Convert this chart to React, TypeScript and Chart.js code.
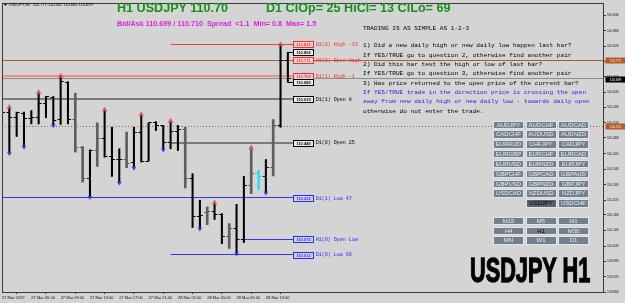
import React, { useEffect, useRef } from "react";
import { Chart, registerables } from "chart.js";

Chart.register(...registerables);

// ---------- data ----------
const headerLine = "USDJPY,H1  110.771 110.802 110.685 110.699";
const symbolTitle = "H1 USDJPY 110.70";
const dailyStats = "D1 ClOp= 25 HiCl= 13 ClLo= 69";
const spreadLine = "Bid/Ask 110.699 / 110.710  Spread  <1.1  Min= 0.8  Max= 1.5";
const bigLabel = "USDJPY H1";

const opens = [
  110.561, 110.568, 110.548, 110.561, 110.542, 110.546, 110.600, 110.626, 110.538, 110.684,
  110.538, 110.431, 110.308, 110.418, 110.464, 110.395, 110.383, 110.385, 110.372, 110.490,
  110.377, 110.526, 110.516, 110.449, 110.492, 110.499, 110.308, 110.162, 110.175, 110.181,
  110.168, 110.081, 110.114, 110.072, 110.282, 110.328, 110.315, 110.351, 110.516, 110.771,
];
const highs = [
  110.574, 110.587, 110.568, 110.568, 110.574, 110.645, 110.629, 110.629, 110.709, 110.687,
  110.642, 110.434, 110.421, 110.526, 110.577, 110.509, 110.425, 110.490, 110.509, 110.558,
  110.526, 110.531, 110.516, 110.533, 110.516, 110.509, 110.328, 110.224, 110.198, 110.214,
  110.172, 110.133, 110.208, 110.317, 110.429, 110.341, 110.383, 110.539, 110.832, 110.802,
];
const lows = [
  110.470, 110.405, 110.473, 110.429, 110.522, 110.522, 110.546, 110.513, 110.520, 110.522,
  110.412, 110.295, 110.233, 110.356, 110.392, 110.317, 110.289, 110.351, 110.347, 110.373,
  110.377, 110.496, 110.418, 110.425, 110.418, 110.272, 110.118, 110.110, 110.129, 110.149,
  110.055, 110.036, 110.012, 110.059, 110.250, 110.265, 110.250, 110.319, 110.509, 110.685,
];
const closes = [
  110.568, 110.548, 110.568, 110.542, 110.546, 110.600, 110.629, 110.535, 110.687, 110.538,
  110.431, 110.308, 110.418, 110.464, 110.395, 110.383, 110.385, 110.369, 110.490, 110.377,
  110.526, 110.516, 110.449, 110.492, 110.499, 110.308, 110.159, 110.166, 110.181, 110.168,
  110.081, 110.114, 110.072, 110.282, 110.328, 110.317, 110.351, 110.516, 110.771, 110.699,
];
// bar kind: k = plain, g = grey, c = cyan
const barKinds = [
  "k", "k", "k", "k", "k", "k", "k", "k", "k", "k",
  "g", "g", "k", "g", "k", "k", "k", "g", "k", "k",
  "k", "k", "k", "k", "k", "g", "k", "k", "g", "k",
  "k", "g", "k", "k", "g", "c", "k", "g", "k", "k",
];
const fractalUpBars = [1, 5, 8, 14, 19, 23, 29, 34, 38];
const fractalDownBars = [1, 3, 7, 12, 16, 18, 22, 27, 32, 36];

const timeTickBars = [0, 4, 8, 12, 16, 20, 24, 28, 32, 36];
const timeTickLabels = [
  "27 Mar 2019", "27 Mar 05:00", "27 Mar 09:00", "27 Mar 13:00", "27 Mar 17:00",
  "27 Mar 21:00", "28 Mar 01:00", "28 Mar 05:00", "28 Mar 09:00", "28 Mar 13:00",
];
const priceTicks = [
  110.946, 110.886, 110.826, 110.766, 110.706, 110.645, 110.586, 110.526, 110.468, 110.405,
  110.346, 110.285, 110.225, 110.168, 110.106, 110.045, 109.985, 109.925, 109.866,
];
const priceMin = 109.866;
const priceMax = 110.994;

const levelNames = [
  "D1(0) High -13", "H1(0) Open High", "D1(1) High -1", "D1(1) Open 8",
  "D1(0) Open 25", "D1(1) Low 47", "H1(0) Open Low", "D1(0) Low 69",
];
const levelPrices = [110.832, 110.771, 110.709, 110.619, 110.449, 110.233, 110.072, 110.012];
const levelGroups = ["high", "high", "high", "open", "open", "low", "low", "low"];
const levelFromBar = [23, 39, 0, 0, 23, 0, 33, 23];

const currentBarMarks = [110.802, 110.685];
const bidPrice = 110.699;
const hourOpenPrice = 110.771;
const markerPrice = 110.512;

const tradingTitle = "TRADING IS AS SIMPLE AS 1-2-3";
const questionLines = [
  "1) Did a new daily high or new daily low happen last bar?",
  "If YES/TRUE go to question 2, otherwise find another pair",
  "2) Did this bar test the high or low of last bar?",
  "If YES/TRUE go to question 3, otherwise find another pair",
  "3) Has price returned to the open price of the current bar?",
  "If YES/TRUE trade in the direction price is crossing the open",
  "away from new daily high or new daily low - towards daily open",
  "otherwise do not enter the trade.",
];
const questionTones = ["k", "k", "k", "k", "k", "b", "b", "k"];

const pairButtons = [
  "AUDJPY", "AUDCHF", "AUDCAD", "CADCHF", "AUDUSD", "AUDNZD", "EURAUD", "CHFJPY", "CADJPY",
  "EURGBP", "EURCHF", "EURCAD", "EURUSD", "EURNZD", "EURJPY", "GBPCHF", "GBPCAD", "GBPAUD",
  "GBPUSD", "GBPNZD", "GBPJPY", "USDCAD", "NZDUSD", "NZDJPY", "", "USDJPY", "USDCHF",
];
const tfButtons = ["M15", "M5", "M1", "H4", "H1", "M30", "MN", "W1", "D1"];
const activePair = "USDJPY";
const activeTf = "H1";

// ---------- styles ----------
const BG = "#d4d4d4";
const KIND_COLOR: any = { k: "#000000", g: "#5e5e5e", c: "#00e4f0" };
const GROUP_COLOR: any = { high: "#ff2a2a", open: "#000000", low: "#2a2aff" };
const GROUP_FILL: any = { high: "#eed6d6", open: "#ececec", low: "#d2d2f6" };
const LINE_STYLE: any = {
  "D1(0) High -13": ["#ff3a3a", 1],
  "H1(0) Open High": ["#ff3a3a", 1],
  "D1(1) High -1": ["#f08c8c", 2],
  "D1(1) Open 8": ["#7a7a7a", 2],
  "D1(0) Open 25": ["#7a7a7a", 2],
  "D1(1) Low 47": ["#3434f0", 1],
  "H1(0) Open Low": ["#3434f0", 1],
  "D1(0) Low 69": ["#3434f0", 1],
};

function snap(y: number, w: number) {
  return w % 2 === 1 ? Math.round(y - 0.5) + 0.5 : Math.round(y);
}
function hline(ctx: any, y: number, x0: number, x1: number, color: string, w: number, dash?: number[]) {
  ctx.save();
  ctx.strokeStyle = color;
  ctx.lineWidth = w;
  if (dash) ctx.setLineDash(dash);
  const yy = snap(y, w);
  ctx.beginPath();
  ctx.moveTo(x0, yy);
  ctx.lineTo(x1, yy);
  ctx.stroke();
  ctx.restore();
}
function box(ctx: any, x: number, y: number, w: number, h: number, fill: string, stroke: string | null, text: string, textColor: string, font: string) {
  const top = Math.round(y - h / 2) + 0.5;
  ctx.save();
  ctx.fillStyle = fill;
  ctx.fillRect(Math.round(x) + 0.5, top, w, h);
  if (stroke) {
    ctx.strokeStyle = stroke;
    ctx.lineWidth = 1;
    ctx.strokeRect(Math.round(x) + 0.5, top, w, h);
  }
  ctx.fillStyle = textColor;
  ctx.font = font;
  ctx.textAlign = "center";
  ctx.textBaseline = "middle";
  ctx.fillText(text, Math.round(x) + 0.5 + w / 2, top + h / 2 + 0.3);
  ctx.restore();
}

const mt4Plugin: any = {
  id: "mt4",
  beforeDraw(chart: any) {
    const { ctx, width, height } = chart;
    ctx.save();
    ctx.fillStyle = BG;
    ctx.fillRect(0, 0, width, height);
    ctx.restore();
  },
  beforeDatasetsDraw(chart: any) {
    const { ctx, chartArea: ca } = chart;
    const xs = chart.scales.x, ys = chart.scales.y;
    const labelX = xs.getPixelForValue(opens.length - 1) + 5;
    ctx.save();
    ctx.beginPath();
    ctx.rect(ca.left, ca.top, ca.right - ca.left, ca.bottom - ca.top);
    ctx.clip();
    hline(ctx, ys.getPixelForValue(markerPrice), ca.left, ca.right, "#a4623c", 1, [1, 2]);
    hline(ctx, ys.getPixelForValue(bidPrice), ca.left, ca.right, "#8e8e8e", 1);
    levelNames.forEach((name, k) => {
      const [c, w] = LINE_STYLE[name];
      const x0 = Math.max(ca.left, xs.getPixelForValue(levelFromBar[k]));
      hline(ctx, ys.getPixelForValue(levelPrices[k]), x0, labelX, c, w);
    });
    hline(ctx, ys.getPixelForValue(hourOpenPrice), ca.left, ca.right, "#b25c28", 1);
    ctx.restore();
  },
  afterDatasetsDraw(chart: any) {
    const { ctx, chartArea: ca } = chart;
    const xs = chart.scales.x, ys = chart.scales.y;
    const last = opens.length - 1;
    const labelX = xs.getPixelForValue(last) + 5;
    ctx.save();
    ctx.beginPath();
    ctx.rect(ca.left, ca.top, ca.right - ca.left, ca.bottom - ca.top);
    ctx.clip();
    // open / close ticks
    opens.forEach((o, i) => {
      const x = xs.getPixelForValue(i);
      ctx.strokeStyle = KIND_COLOR[barKinds[i]];
      ctx.lineWidth = 1;
      const yo = snap(ys.getPixelForValue(o), 1);
      const yc = snap(ys.getPixelForValue(closes[i]), 1);
      ctx.beginPath();
      ctx.moveTo(x - 3, yo);
      ctx.lineTo(x, yo);
      ctx.moveTo(x, yc);
      ctx.lineTo(x + 3, yc);
      ctx.stroke();
    });
    // fractal arrows
    fractalUpBars.forEach((i) => {
      const x = xs.getPixelForValue(i);
      const y = ys.getPixelForValue(highs[i]);
      ctx.beginPath();
      ctx.moveTo(x - 2.2, y + 1.5);
      ctx.lineTo(x, y - 2.5);
      ctx.lineTo(x + 2.2, y + 1.5);
      ctx.fillStyle = "rgba(255,120,120,0.55)";
      ctx.fill();
      ctx.strokeStyle = "#ff3c3c";
      ctx.lineWidth = 1;
      ctx.stroke();
    });
    fractalDownBars.forEach((i) => {
      const x = xs.getPixelForValue(i);
      const y = ys.getPixelForValue(lows[i]);
      ctx.beginPath();
      ctx.moveTo(x - 2.3, y - 2);
      ctx.lineTo(x + 2.3, y - 2);
      ctx.lineTo(x, y + 2);
      ctx.closePath();
      ctx.fillStyle = "#2a3cff";
      ctx.fill();
    });
    // leaders from current bar to its marks
    currentBarMarks.forEach((v) => {
      hline(ctx, ys.getPixelForValue(v), xs.getPixelForValue(last), labelX, "#000", 1);
    });
    ctx.restore();

    // level label boxes + names
    levelNames.forEach((name, k) => {
      const y = ys.getPixelForValue(levelPrices[k]);
      const g = levelGroups[k];
      box(ctx, labelX, y, 20, 6, GROUP_FILL[g], GROUP_COLOR[g], levelPrices[k].toFixed(3), GROUP_COLOR[g], "bold 4px 'Liberation Sans'");
      ctx.save();
      ctx.fillStyle = GROUP_COLOR[g];
      ctx.font = "5px 'Liberation Mono'";
      ctx.textAlign = "left";
      ctx.textBaseline = "middle";
      ctx.fillText(name, labelX + 23, y + 0.3);
      ctx.restore();
    });
    currentBarMarks.forEach((v) => {
      box(ctx, labelX, ys.getPixelForValue(v), 20, 6, "#ececec", "#000", v.toFixed(3), "#000", "bold 4px 'Liberation Sans'");
    });

    // frame
    ctx.save();
    ctx.strokeStyle = "#3a3a3a";
    ctx.lineWidth = 1;
    ctx.strokeRect(ca.left + 0.5, ca.top + 0.5, ca.right - ca.left - 1, ca.bottom - ca.top);
    ctx.restore();
  },
  afterDraw(chart: any) {
    const { ctx, chartArea: ca, width } = chart;
    const ys = chart.scales.y;
    const w = width - ca.right - 1;
    box(ctx, ca.right + 1, ys.getPixelForValue(hourOpenPrice), w, 6, "#b25c28", null, hourOpenPrice.toFixed(3), "#f6e6d6", "3.4px 'Liberation Sans'");
    box(ctx, ca.right + 1, ys.getPixelForValue(bidPrice), w, 6, "#000000", null, bidPrice.toFixed(3), "#ffffff", "3.4px 'Liberation Sans'");
    box(ctx, ca.right + 1, ys.getPixelForValue(markerPrice), w, 6, "#b25c28", null, markerPrice.toFixed(3), "#f6e6d6", "3.4px 'Liberation Sans'");
    // header
    ctx.save();
    ctx.fillStyle = "#000";
    ctx.beginPath();
    ctx.moveTo(4, 4);
    ctx.lineTo(7, 4);
    ctx.lineTo(5.5, 6);
    ctx.closePath();
    ctx.fill();
    ctx.font = "4px 'Liberation Sans'";
    ctx.textBaseline = "middle";
    ctx.fillText(headerLine, 9, 5.3);
    ctx.restore();
  },
};

export default function App() {
  const ref = useRef<HTMLCanvasElement>(null);

  useEffect(() => {
    const canvas = ref.current as HTMLCanvasElement;
    const idx = opens.map((_, i) => i);
    const series = (kind: string) =>
      idx.filter((i) => barKinds[i] === kind).map((i) => ({ x: i, y: [lows[i], highs[i]] }));
    const chart = new Chart(canvas, {
      type: "bar",
      data: {
        datasets: [
          { data: series("k") as any, backgroundColor: KIND_COLOR.k, barThickness: 1.4, grouped: false } as any,
          { data: series("g") as any, backgroundColor: KIND_COLOR.g, barThickness: 2, grouped: false } as any,
          { data: series("c") as any, backgroundColor: KIND_COLOR.c, barThickness: 1.4, grouped: false } as any,
        ],
      },
      options: {
        animation: false,
        responsive: false,
        maintainAspectRatio: false,
        devicePixelRatio: 1,
        layout: { padding: { left: 2, top: 2, right: 0, bottom: 0 } },
        plugins: { legend: { display: false }, tooltip: { enabled: false } },
        scales: {
          x: {
            type: "linear",
            min: 0,
            max: 82.13,
            offset: false,
            bounds: "data",
            border: { display: false },
            grid: { display: true, drawOnChartArea: false, drawTicks: true, tickLength: 2, color: "#3a3a3a" },
            ticks: {
              autoSkip: false,
              maxRotation: 0,
              minRotation: 0,
              align: "start",
              padding: 1,
              color: "#111",
              font: { family: "'Liberation Sans'", size: 4 },
              callback: (v: any) => {
                const k = timeTickBars.indexOf(Number(v));
                return k >= 0 ? timeTickLabels[k] : "";
              },
            },
            afterBuildTicks: (s: any) => {
              s.ticks = timeTickBars.map((v) => ({ value: v }));
            },
            afterFit: (s: any) => {
              s.height = 11;
            },
          },
          y: {
            type: "linear",
            position: "right",
            min: priceMin,
            max: priceMax,
            bounds: "data",
            border: { display: false },
            grid: { display: true, drawOnChartArea: false, drawTicks: true, tickLength: 2, color: "#3a3a3a" },
            ticks: {
              autoSkip: false,
              padding: 1,
              color: "#111",
              font: { family: "'Liberation Sans'", size: 3.3 },
              callback: (v: any) => Number(v).toFixed(3),
            },
            afterBuildTicks: (s: any) => {
              s.ticks = priceTicks.map((v) => ({ value: v }));
            },
            afterFit: (s: any) => {
              s.width = 21;
            },
          },
        },
      } as any,
      plugins: [mt4Plugin],
    });
    return () => chart.destroy();
  }, []);

  const btnBase: any = {
    position: "absolute",
    boxSizing: "border-box",
    width: 31,
    height: 8.4,
    border: "1px solid #e4e4e4",
    background: "#708090",
    color: "#ececec",
    font: "6px 'Liberation Sans', Arial, sans-serif",
    lineHeight: "6.6px",
    textAlign: "center",
    overflow: "hidden",
  };

  return (
    <div style={{ position: "fixed", left: 0, top: 0, width: 625, height: 303, background: BG, overflow: "hidden" }}>
      <canvas ref={ref} width={625} height={303} style={{ position: "absolute", left: 0, top: 0, width: 625, height: 303 }} />
      <div style={{ position: "absolute", left: 117, top: 2.3, font: "bold 12.6px 'Liberation Sans', Arial, sans-serif", lineHeight: "13px", color: "#16901a", whiteSpace: "nowrap" }}>
        {symbolTitle}
      </div>
      <div style={{ position: "absolute", left: 266, top: 2.3, font: "bold 12.6px 'Liberation Sans', Arial, sans-serif", lineHeight: "13px", color: "#16901a", whiteSpace: "nowrap" }}>
        {dailyStats}
      </div>
      <div style={{ position: "absolute", left: 117, top: 20, font: "bold 7.2px 'Liberation Sans', Arial, sans-serif", lineHeight: "8px", color: "#e21ee2", whiteSpace: "pre" }}>
        {spreadLine}
      </div>
      <div style={{ position: "absolute", left: 363, top: 23.8, font: "6.1px 'Liberation Mono', monospace", lineHeight: "9px", color: "#000", whiteSpace: "pre" }}>
        {tradingTitle}
      </div>
      {questionLines.map((t, k) => (
        <div
          key={k}
          style={{
            position: "absolute",
            left: 363,
            top: 41.2 + k * 9.33,
            font: "6.1px 'Liberation Mono', monospace",
            lineHeight: "9px",
            color: questionTones[k] === "b" ? "#2424ee" : "#000",
            whiteSpace: "pre",
          }}
        >
          {t}
        </div>
      ))}
      {pairButtons.map((t, k) =>
        t ? (
          <div
            key={"p" + k}
            style={{
              ...btnBase,
              left: 493 + (k % 3) * 32.5,
              top: 120.6 + Math.floor(k / 3) * 9.82,
              background: t === activePair ? "#56636f" : "#708090",
              color: t === activePair ? "#000" : "#ececec",
            }}
          >
            {t}
          </div>
        ) : null
      )}
      {tfButtons.map((t, k) => (
        <div
          key={"t" + k}
          style={{
            ...btnBase,
            left: 493 + (k % 3) * 32.5,
            top: 217 + Math.floor(k / 3) * 9.7,
            color: t === activeTf ? "#000" : "#ececec",
          }}
        >
          {t}
        </div>
      ))}
      <div
        style={{
          position: "absolute",
          left: 470,
          top: 252.4,
          font: "bold 35px 'Liberation Sans', Arial, sans-serif",
          lineHeight: "35px",
          color: "#000",
          WebkitTextStroke: "1.3px #000",
          transform: "scaleX(0.62)",
          transformOrigin: "0 0",
          whiteSpace: "nowrap",
        }}
      >
        {bigLabel}
      </div>
    </div>
  );
}
